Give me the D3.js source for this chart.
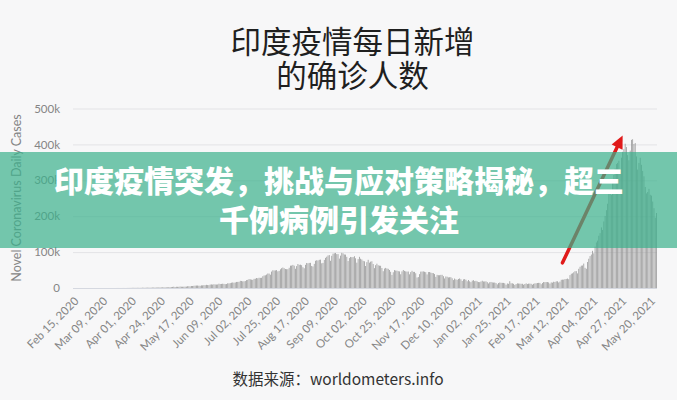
<!DOCTYPE html>
<html><head><meta charset="utf-8">
<script src="https://cdn.jsdelivr.net/npm/d3@7"></script>
<style>
html,body{margin:0;padding:0;background:#f7f7f8;}
svg{display:block;}
</style></head>
<body>
<svg id="chart" width="677" height="400"></svg>
<script>
// ---- data (thousands of new cases per day, India, from Feb 15, 2020) ----
const startDate = new Date(2020, 1, 15);
const feb2020 = [0,0,0,0,0,0,0,0,0,0,0,0,0,0,0];
const mar2020 = [0,0,0,0.02,0,0,0,0,0,0.02,0.01,0.01,0.01,0.02,0.03,0.02,0.03,0.03,0.03,0.07,0.08,0.1,0.1,0.09,0.11,0.13,0.16,0.1,0.18,0.19,0.39];
const apr2020 = [0.42,0.49,0.56,0.58,0.49,0.57,0.56,0.54,0.6,0.9,0.77,0.8,1.0,1.0,0.9,1.1,1.0,1.3,1.4,1.3,1.4,1.3,1.6,1.7,1.7,1.8,1.6,1.9,1.8,1.8];
const may2020 = [2.4,2.3,2.5,3.0,3.6,2.8,3.4,3.3,3.3,4.2,3.6,3.5,3.7,3.9,3.9,4.9,5.0,4.6,5.6,5.6,6.1,6.7,6.8,6.9,6.4,6.2,7.3,7.3,8.0,7.9,8.8];
const jun2020 = [8.2,8.0,9.6,9.9,9.5,10.4,9.9,9.6,9.9,12.0,11.1,11.3,11.9,11.5,10.7,11.0,13.1,12.9,13.6,14.7,15.4,14.8,15.4,16.9,17.0,17.3,19.9,19.6,18.5,18.7];
const jul2020 = [19.4,21.9,22.7,24.9,24.2,23.3,22.7,25.5,25.8,27.8,27.1,28.6,28.2,28.5,32.7,35.0,35.3,37.4,40.4,40.2,37.1,45.7,49.3,48.9,49.0,49.9,46.4,47.7,52.1,55.1,57.1];
const aug2020 = [55.1,52.9,52.3,52.5,56.3,62.2,62.5,64.4,62.1,53.6,60.9,66.9,64.5,65.0,63.5,57.9,55.0,64.5,69.7,68.9,69.9,70.1,61.4,60.0,67.2,75.8,77.3,76.7,78.5,79.0,68.8];
const sep2020 = [69.9,78.2,83.9,87.1,90.6,91.7,75.8,89.7,95.7,96.6,97.6,94.4,94.4,81.9,90.1,97.9,96.4,93.3,93.0,86.9,75.1,83.3,86.5,85.9,86.1,88.6,82.8,70.6,80.5,86.8];
const oct2020 = [81.5,79.5,75.6,74.4,61.3,72.0,78.5,70.5,73.3,74.4,66.7,55.3,63.5,67.7,63.4,62.2,61.9,55.7,46.8,54.0,56.0,54.4,53.4,50.1,45.1,36.5,43.9,49.9,48.6,48.3,46.9];
const nov2020 = [46.2,38.3,46.3,50.2,47.6,46.3,45.7,45.9,38.1,44.3,47.9,44.9,44.9,41.1,29.2,30.5,38.6,45.6,45.9,46.2,45.2,44.1,37.9,44.4,44.5,43.1,41.8,41.3,38.8,31.1];
const dec2020 = [36.6,35.6,35.6,36.6,36.7,32.9,26.6,32.1,31.5,29.4,30.0,30.2,27.0,22.1,26.4,24.0,22.9,25.1,26.6,24.3,19.6,23.9,24.7,23.0,18.7,22.3,18.7,16.4,20.5,21.8,19.1];
const jan2021 = [20.0,18.2,16.5,16.4,18.1,20.3,18.1,18.2,18.6,16.3,12.6,15.9,16.9,15.6,15.1,15.2,13.8,10.1,13.8,15.2,14.5,14.3,14.2,13.2,9.1,12.7,11.7,18.9,13.1,13.1,11.6];
const feb2021 = [8.6,11.0,12.9,12.4,12.2,11.7,11.8,9.1,11.1,12.9,11.0,12.1,12.2,11.6,9.1,11.6,12.9,13.2,13.9,14.3,14.2,10.6,13.8,16.6,16.5,16.6,16.5,15.5];
const mar2021 = [12.3,15.6,14.9,17.4,16.8,18.6,18.7,15.4,17.9,22.9,23.3,23.3,24.9,25.3,26.3,24.5,35.9,39.7,40.9,43.8,46.9,46.9,40.7,53.5,59.1,62.3,62.7,68.0,56.2,53.5,72.3];
const apr2021 = [81.5,89.0,93.2,103.6,96.6,115.3,126.8,131.9,145.4,152.9,168.9,161.7,185.3,200.7,216.8,234.7,261.5,273.8,259.2,295.0,314.8,332.7,345.1,348.4,354.5,319.4,362.9,379.3,386.8,401.9];
const may2021 = [392.6,370.1,355.8,382.7,412.6,414.4,401.1,403.7,366.5,329.9,348.4,362.7,343.1,326.1,311.2,281.4,263.5,267.3,276.1,259.6,257.3,240.8,222.3,195.8,208.9];
const dailyNewCasesK = [].concat(feb2020,mar2020,apr2020,may2020,jun2020,jul2020,aug2020,sep2020,oct2020,nov2020,dec2020,jan2021,feb2021,mar2021,apr2021,may2021);

const yTicksK = [0,100,200,300,400,500];
const xTickLabels = ["Feb 15, 2020","Mar 09, 2020","Apr 01, 2020","Apr 24, 2020","May 17, 2020","Jun 09, 2020","Jul 02, 2020","Jul 25, 2020","Aug 17, 2020","Sep 09, 2020","Oct 02, 2020","Oct 25, 2020","Nov 17, 2020","Dec 10, 2020","Jan 02, 2021","Jan 25, 2021","Feb 17, 2021","Mar 12, 2021","Apr 04, 2021","Apr 27, 2021","May 20, 2021"];
const arrowFrom = {date:"Mar 11, 2021", valueK:70};
const arrowTo = {date:"Apr 28, 2021", valueK:425};

const titleLines = ["印度疫情每日新增","的确诊人数"];
const bannerLines = ["印度疫情突发，挑战与应对策略揭秘，超三","千例病例引发关注"];
const yAxisTitle = "Novel Coronavirus Daily Cases";
const sourceText = "数据来源：worldometers.info";

// ---- drawing ----
const fmt = d3.timeFormat("%b %d, %Y");
const categories = dailyNewCasesK.map((_, i) => fmt(d3.timeDay.offset(startDate, i)));

const svg = d3.select("#chart");
const W = 677, H = 400;
svg.append("rect").attr("width", W).attr("height", H).attr("fill", "#f7f7f8");

const x = d3.scaleBand().domain(categories).range([73, 657]).paddingInner(0.4).paddingOuter(0.1);
const y = d3.scaleLinear().domain([0, 500]).range([288, 108.5]);

// title
const cjk = "'Noto Sans CJK SC','Noto Sans CJK JP',sans-serif";
svg.append("g").selectAll("text").data(titleLines).join("text")
  .attr("x", W/2 + 14).attr("y", (d,i) => 42 + i*34)
  .attr("dy", "0.36em").attr("text-anchor", "middle")
  .attr("font-family", cjk).attr("font-size", 30.5).attr("font-weight", 400)
  .attr("fill", "#1f1f1f").text(d => d);

// y axis grid + labels
const yAxis = d3.axisLeft(y).tickValues(yTicksK).tickSize(-(657-73))
  .tickFormat(d => d === 0 ? "0" : d + "k");
const gy = svg.append("g").attr("transform", "translate(73,0)").call(yAxis);
gy.select(".domain").remove();
gy.selectAll(".tick line").attr("stroke", "#e3e3e6").attr("stroke-width", 1);
gy.selectAll(".tick:first-of-type line").attr("stroke", "#d5d8e0");
gy.selectAll(".tick text").attr("x", -13).attr("fill", "#858585")
  .attr("font-family", "Lato, 'Open Sans', sans-serif").attr("font-size", 11.5);

svg.append("text")
  .attr("transform", `translate(21,${(288+108)/2}) rotate(-90)`)
  .attr("text-anchor", "middle").attr("font-family", "Lato, 'Open Sans', sans-serif")
  .attr("font-size", 12.5).attr("fill", "#858585").text(yAxisTitle);

// bars
svg.append("g").selectAll("rect").data(dailyNewCasesK).join("rect")
  .attr("x", (d,i) => x(categories[i]))
  .attr("width", x.bandwidth())
  .attr("y", d => y(d))
  .attr("height", d => y(0) - y(d))
  .attr("fill", "#949494");

// x tick labels
svg.append("g").selectAll("text").data(xTickLabels).join("text")
  .attr("transform", d => `translate(${x(d) + x.bandwidth()/2 + 3},299) rotate(-45)`)
  .attr("text-anchor", "end").attr("dy", "0.35em")
  .attr("font-family", "Lato, 'Open Sans', sans-serif").attr("font-size", 11.5)
  .attr("fill", "#858585").text(d => d);

// red arrow annotation
const ax1 = x(arrowFrom.date) + x.bandwidth()/2, ay1 = y(arrowFrom.valueK);
const ax2 = x(arrowTo.date) + x.bandwidth()/2, ay2 = y(arrowTo.valueK);
const ang = Math.atan2(ay2 - ay1, ax2 - ax1);
const headLen = 13, headW = 6;
const bx = ax2 - headLen*Math.cos(ang), by = ay2 - headLen*Math.sin(ang);
svg.append("line").attr("x1", ax1).attr("y1", ay1).attr("x2", bx).attr("y2", by)
  .attr("stroke", "#e01a1a").attr("stroke-width", 3.5).attr("stroke-linecap", "round");
svg.append("path")
  .attr("d", `M${ax2},${ay2} L${bx - headW*Math.sin(ang)},${by + headW*Math.cos(ang)} L${bx + headW*Math.sin(ang)},${by - headW*Math.cos(ang)} Z`)
  .attr("fill", "#e01a1a");

// source
svg.append("text").attr("x", 338).attr("y", 379).attr("dy", "0.36em")
  .attr("text-anchor", "middle").attr("font-family", cjk).attr("font-size", 15.5)
  .attr("fill", "#333").text(sourceText);

// overlay banner
svg.append("rect").attr("x", 0).attr("y", 152).attr("width", W).attr("height", 96)
  .attr("fill", "rgb(59,177,139)").attr("fill-opacity", 0.7);
svg.append("g").selectAll("text").data(bannerLines).join("text")
  .attr("x", 339).attr("y", (d,i) => 181 + i*39)
  .attr("dy", "0.36em").attr("text-anchor", "middle")
  .attr("font-family", cjk).attr("font-size", 30).attr("font-weight", 900)
  .attr("fill", "#ffffff").text(d => d);
</script>
</body></html>
